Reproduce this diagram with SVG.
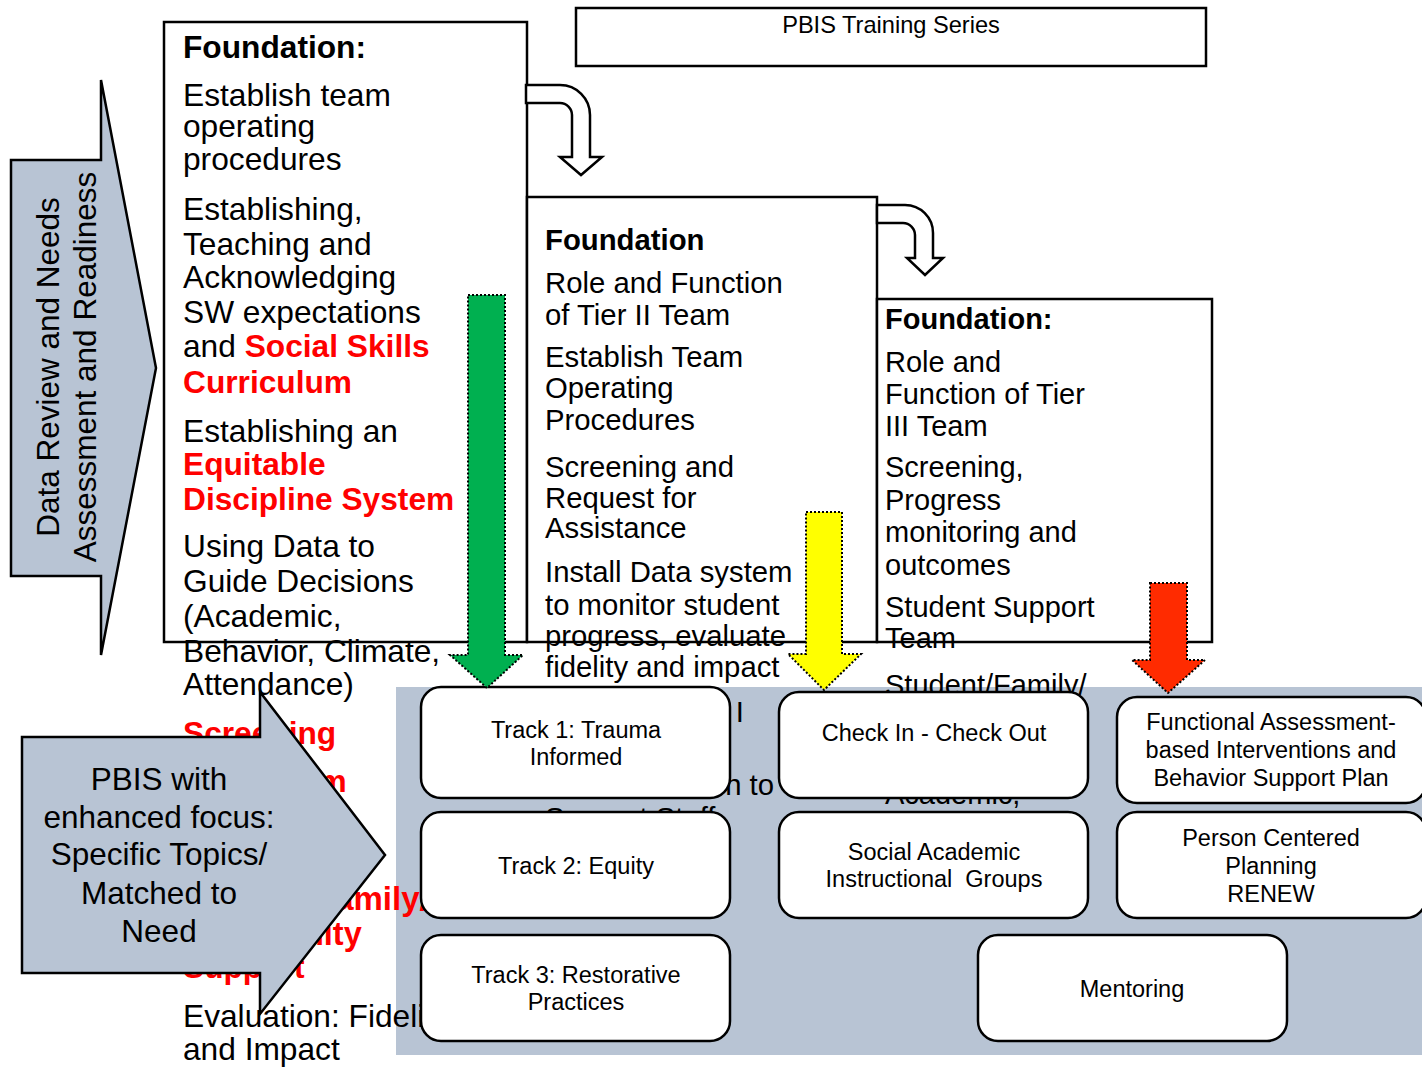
<svg xmlns="http://www.w3.org/2000/svg" width="1422" height="1068" viewBox="0 0 1422 1068">
<style>
text{font-family:"Liberation Sans",Arial,Helvetica,sans-serif;fill:#000}
.c1{font-size:31.7px}
.c2{font-size:29.3px}
.c3{font-size:29px}
.b{font-weight:bold}
.r{fill:#ff0000;font-weight:bold}
.box{fill:#fff;stroke:#000;stroke-width:2.5}
.blue{fill:#b8c4d4;stroke:#000;stroke-width:2.5}
.dot{stroke:#000;stroke-width:2;stroke-dasharray:2 2}
.n{font-size:23.5px;text-anchor:middle}
.big{font-size:31.5px;text-anchor:middle}
</style>
<rect width="1422" height="1068" fill="#fff"/>

<g id="column1-box"><rect class="box" x="164" y="22" width="363" height="620"/></g>
<g id="column2-box"><rect class="box" x="527" y="197" width="350" height="445"/></g>
<g id="column3-box"><rect class="box" x="877" y="299" width="335" height="343"/></g>

<g id="connectors">
<path class="box" d="M526,85 H560 A30,30 0 0 1 590,115 V157 H602 L581,175 L560,157 H572 V115 A12,12 0 0 0 560,103 H526 Z"/>
<path class="box" d="M877,205 H905 A28,28 0 0 1 933,233 V258 H943 L925,275 L907,258 H915 V235 A12,12 0 0 0 903,223 H877 Z"/>
</g>

<g id="title"><rect class="box" x="576" y="8" width="630" height="58"/>
<text x="891" y="33" font-size="23.6" text-anchor="middle">PBIS Training Series</text></g>

<g id="data-review-arrow">
<polygon class="blue" points="11,160 101,160 101,80 156,368 101,655 101,576 11,576"/>
<text class="big" transform="translate(59,367) rotate(-90)">Data Review and Needs</text>
<text class="big" transform="translate(96,367) rotate(-90)">Assessment and Readiness</text>
</g>

<g id="panel"><rect x="396" y="687" width="1030" height="368" fill="#b8c4d4"/></g>

<g id="column1-text">
<text class="c1 b" x="183" y="58">Foundation:</text>
<text class="c1" x="183" y="106">Establish team</text>
<text class="c1" x="183" y="137">operating</text>
<text class="c1" x="183" y="170">procedures</text>
<text class="c1" x="183" y="220">Establishing,</text>
<text class="c1" x="183" y="255">Teaching and</text>
<text class="c1" x="183" y="288">Acknowledging</text>
<text class="c1" x="183" y="323">SW expectations</text>
<text class="c1" x="183" y="357">and <tspan class="r">Social Skills</tspan></text>
<text class="c1 r" x="183" y="393">Curriculum</text>
<text class="c1" x="183" y="442">Establishing an</text>
<text class="c1 r" x="183" y="475">Equitable</text>
<text class="c1 r" x="183" y="510">Discipline System</text>
<text class="c1" x="183" y="557">Using Data to</text>
<text class="c1" x="183" y="592">Guide Decisions</text>
<text class="c1" x="183" y="627">(Academic,</text>
<text class="c1" x="183" y="662">Behavior, Climate,</text>
<text class="c1" x="183" y="695">Attendance)</text>
<text class="c1 r" x="183" y="744">Screening</text>
<text class="c1 r" x="183" y="792">Classroom</text>
<text class="r" x="183" y="910" style="font-size:33px">Student/Family/</text>
<text class="r" x="183" y="945" style="font-size:32.5px">Community</text>
<text class="c1 r" x="183" y="978">Support</text>
<text class="c1" x="183" y="1027">Evaluation: Fidelity</text>
<text class="c1" x="183" y="1060">and Impact</text>
</g>

<g id="column2-text">
<text class="c2 b" x="545" y="250">Foundation</text>
<text class="c2" x="545" y="293">Role and Function</text>
<text class="c2" x="545" y="325">of Tier II Team</text>
<text class="c2" x="545" y="367">Establish Team</text>
<text class="c2" x="545" y="398">Operating</text>
<text class="c2" x="545" y="430">Procedures</text>
<text class="c2" x="545" y="477">Screening and</text>
<text class="c2" x="545" y="508">Request for</text>
<text class="c2" x="545" y="538">Assistance</text>
<text class="c2" x="545" y="582">Install Data system</text>
<text class="c2" x="545" y="615">to monitor student</text>
<text class="c2" x="545" y="646">progress, evaluate</text>
<text class="c2" x="545" y="677">fidelity and impact</text>
<text class="c2" x="744" y="722" text-anchor="end">Coordination with Tier I</text>
<text class="c2" x="774" y="795" text-anchor="end">Communication to</text>
<text class="c2" x="545" y="828">Support Staff</text>
</g>

<g id="column3-text">
<text class="c3 b" x="885" y="329">Foundation:</text>
<text class="c3" x="885" y="372">Role and</text>
<text class="c3" x="885" y="404">Function of Tier</text>
<text class="c3" x="885" y="436">III Team</text>
<text class="c3" x="885" y="477">Screening,</text>
<text class="c3" x="885" y="510">Progress</text>
<text class="c3" x="885" y="542">monitoring and</text>
<text class="c3" x="885" y="575">outcomes</text>
<text class="c3" x="885" y="617">Student Support</text>
<text class="c3" x="885" y="648">Team</text>
<text class="c3" x="885" y="695">Student/Family/</text>
<text class="c3" x="885" y="804">Academic,</text>
</g>

<g id="track1"><rect class="box" x="421" y="687" width="309" height="111" rx="20"/>
<text class="n" x="576" y="738">Track 1: Trauma</text><text class="n" x="576" y="765">Informed</text></g>
<g id="track2"><rect class="box" x="421" y="812" width="309" height="106" rx="20"/>
<text class="n" x="576" y="874">Track 2: Equity</text></g>
<g id="track3"><rect class="box" x="421" y="935" width="309" height="106" rx="20"/>
<text class="n" x="576" y="983">Track 3: Restorative</text><text class="n" x="576" y="1010">Practices</text></g>
<g id="checkin"><rect class="box" x="779" y="692" width="309" height="106" rx="20"/>
<text class="n" x="934" y="741">Check In - Check Out</text></g>
<g id="faba"><rect class="box" x="1117" y="697" width="309" height="106" rx="20"/>
<text class="n" x="1271" y="730">Functional Assessment-</text><text class="n" x="1271" y="758">based Interventions and</text><text class="n" x="1271" y="786">Behavior Support Plan</text></g>
<g id="saig"><rect class="box" x="779" y="812" width="309" height="106" rx="20"/>
<text class="n" x="934" y="860">Social Academic</text><text class="n" x="934" y="887">Instructional&#160; Groups</text></g>
<g id="pcp"><rect class="box" x="1117" y="812" width="309" height="106" rx="20"/>
<text class="n" x="1271" y="846">Person Centered</text><text class="n" x="1271" y="874">Planning</text><text class="n" x="1271" y="902">RENEW</text></g>
<g id="mentoring"><rect class="box" x="978" y="935" width="309" height="106" rx="20"/>
<text class="n" x="1132" y="997">Mentoring</text></g>

<g id="pbis-arrow">
<polygon class="blue" points="22,737 260,737 260,692 385,855 260,1014 260,973 22,973"/>
<text class="big" x="159" y="790">PBIS with</text>
<text class="big" x="159" y="828">enhanced focus:</text>
<text class="big" x="159" y="865">Specific Topics/</text>
<text class="big" x="159" y="904">Matched to</text>
<text class="big" x="159" y="942">Need</text>
</g>

<g id="tier-arrows">
<polygon class="dot" fill="#00b050" points="468,295 505,295 505,655 523,655 487,688 450,655 468,655"/>
<polygon class="dot" fill="#ffff00" points="806,512 842,512 842,654 861,654 824,690 788,654 806,654"/>
<polygon class="dot" fill="#ff2b00" points="1150,583 1187,583 1187,660 1205,660 1168,693 1132,660 1150,660"/>
</g>
</svg>
